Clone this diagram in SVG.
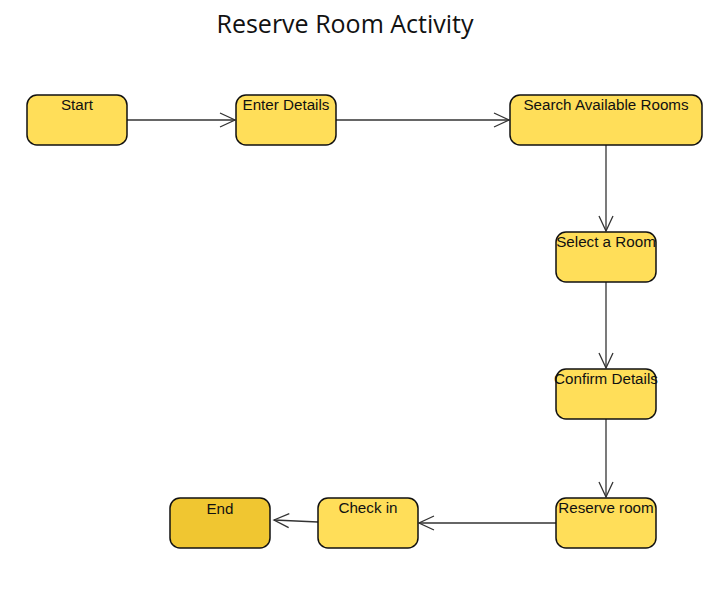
<svg xmlns="http://www.w3.org/2000/svg" width="715" height="593" viewBox="0 0 715 593">
<style>
.node rect{fill:#FFDE59;stroke:#111;stroke-width:1.5}
.node text{font-family:"Liberation Sans",Arial,sans-serif;font-size:15.2px;fill:#111;text-anchor:middle}
#end rect{fill:#F0C631}
.conn path{fill:none;stroke:#333;stroke-width:1.3}
.title{font-family:"Open Sans",sans-serif;font-size:25px;fill:#111;text-anchor:middle}
</style>
<defs>
<marker id="arr" markerWidth="18" markerHeight="16" refX="16" refY="8" orient="auto" markerUnits="userSpaceOnUse">
<path d="M1,1 L16,8 L1,15" fill="none" stroke="#333" stroke-width="1.3"/>
</marker>
</defs>
<rect width="715" height="593" fill="#fff"/>
<text class="title" x="345" y="33">Reserve Room Activity</text>
<g class="conn">
<path d="M127,120 H235" marker-end="url(#arr)"/>
<path d="M336,120 H509" marker-end="url(#arr)"/>
<path d="M606,145 V231" marker-end="url(#arr)"/>
<path d="M606,282 V368" marker-end="url(#arr)"/>
<path d="M606,419 V497" marker-end="url(#arr)"/>
<path d="M556,523 H419" marker-end="url(#arr)"/>
<path d="M318,522 L274,520" marker-end="url(#arr)"/>
</g>
<g id="start" class="node"><rect x="27" y="95" width="100" height="50" rx="10"/><text x="77" y="110">Start</text></g>
<g id="enter" class="node"><rect x="236" y="95" width="100" height="50" rx="10"/><text x="286" y="110">Enter Details</text></g>
<g id="search" class="node"><rect x="510" y="95" width="192" height="50" rx="10"/><text x="606" y="110">Search Available Rooms</text></g>
<g id="select" class="node"><rect x="556" y="232" width="100" height="50" rx="10"/><text x="606" y="247">Select a Room</text></g>
<g id="confirm" class="node"><rect x="556" y="369" width="100" height="50" rx="10"/><text x="606" y="384">Confirm Details</text></g>
<g id="reserve" class="node"><rect x="556" y="498" width="100" height="50" rx="10"/><text x="606" y="513">Reserve room</text></g>
<g id="checkin" class="node"><rect x="318" y="498" width="100" height="50" rx="10"/><text x="368" y="513">Check in</text></g>
<g id="end" class="node"><rect x="170" y="498" width="100" height="50" rx="10"/><text x="220" y="514">End</text></g>
</svg>
